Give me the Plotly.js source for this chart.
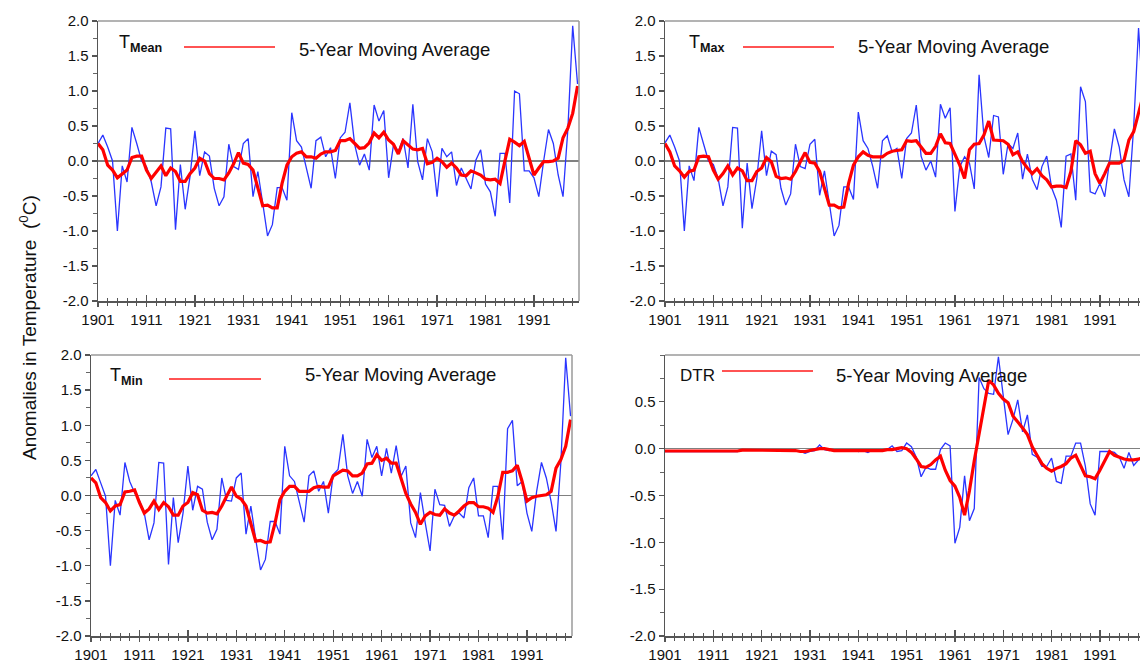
<!DOCTYPE html>
<html><head><meta charset="utf-8">
<script src="https://cdn.plot.ly/plotly-3.0.1.min.js"></script>
<style>html,body{margin:0;padding:0;background:#fff;}#chart{width:1140px;height:664px;}</style>
</head><body><div id="chart"></div>
<script>
const years = [1901,1902,1903,1904,1905,1906,1907,1908,1909,1910,1911,1912,1913,1914,1915,1916,1917,1918,1919,1920,
1921,1922,1923,1924,1925,1926,1927,1928,1929,1930,1931,1932,1933,1934,1935,1936,1937,1938,1939,1940,
1941,1942,1943,1944,1945,1946,1947,1948,1949,1950,1951,1952,1953,1954,1955,1956,1957,1958,1959,1960,
1961,1962,1963,1964,1965,1966,1967,1968,1969,1970,1971,1972,1973,1974,1975,1976,1977,1978,1979,1980,
1981,1982,1983,1984,1985,1986,1987,1988,1989,1990,1991,1992,1993,1994,1995,1996,1997,1998,1999,2000];

const tMeanAnnual = [0.25,0.37,0.2,0.0,-1.0,-0.07,-0.3,0.48,0.25,0.0,
-0.08,-0.3,-0.64,-0.37,0.47,0.46,-0.98,-0.05,-0.69,-0.22,
0.43,-0.21,0.13,0.07,-0.39,-0.64,-0.51,0.24,-0.08,-0.12,
0.25,0.32,-0.51,-0.15,-0.6,-1.07,-0.91,-0.38,-0.38,-0.56,
0.69,0.29,0.2,-0.08,-0.39,0.29,0.34,0.06,0.19,-0.25,
0.33,0.41,0.83,0.23,-0.06,0.1,-0.13,0.8,0.57,0.72,
-0.24,0.23,0.14,0.32,-0.1,0.81,-0.01,-0.27,0.32,0.13,
-0.51,0.18,0.06,0.13,-0.35,-0.1,-0.26,-0.4,0.01,0.16,
-0.33,-0.44,-0.79,0.11,0.11,-0.6,1.0,0.96,-0.14,-0.14,
-0.24,-0.51,0.0,0.45,0.25,-0.2,-0.51,0.45,1.93,1.1];
const tMeanMA = [0.25,0.16,-0.06,-0.13,-0.24,-0.18,-0.13,0.05,0.07,0.07,
-0.13,-0.25,-0.16,-0.07,-0.21,-0.1,-0.15,-0.29,-0.29,-0.18,
-0.1,0.04,0.0,-0.18,-0.25,-0.25,-0.27,-0.17,-0.04,0.12,
-0.03,-0.05,-0.13,-0.39,-0.64,-0.63,-0.67,-0.67,-0.32,-0.06,
0.06,0.11,0.13,0.06,0.06,0.04,0.1,0.13,0.13,0.15,
0.29,0.29,0.32,0.25,0.18,0.19,0.26,0.4,0.33,0.41,
0.3,0.24,0.1,0.29,0.23,0.17,0.16,0.18,-0.04,-0.02,
0.04,-0.01,-0.09,-0.03,-0.1,-0.2,-0.21,-0.14,-0.17,-0.2,
-0.26,-0.27,-0.26,-0.32,0.0,0.31,0.27,0.22,0.28,0.04,
-0.2,-0.1,-0.01,-0.01,0.0,0.04,0.33,0.47,0.68,1.07];

const tMaxAnnual = [0.26,0.37,0.2,0.0,-1.0,-0.07,-0.28,0.48,0.24,0.0,
-0.05,-0.25,-0.64,-0.37,0.48,0.47,-0.96,-0.03,-0.68,-0.25,
0.43,-0.21,0.14,0.09,-0.39,-0.63,-0.47,0.24,-0.08,-0.11,
0.24,0.31,-0.49,-0.14,-0.6,-1.07,-0.92,-0.37,-0.37,-0.55,
0.7,0.29,0.18,-0.08,-0.39,0.29,0.36,0.13,0.18,-0.25,
0.32,0.4,0.8,0.07,-0.13,0.0,-0.23,0.81,0.61,0.76,
-0.72,-0.08,0.06,-0.03,-0.4,1.23,0.35,0.05,0.65,0.63,
-0.19,0.25,0.18,0.4,-0.26,0.1,-0.26,-0.41,-0.08,0.07,
-0.38,-0.56,-0.95,0.07,0.1,-0.56,1.06,0.85,-0.44,-0.47,
-0.32,-0.51,0.0,0.46,0.2,-0.27,-0.51,0.5,1.9,0.8];
const tMaxMA = [0.25,0.13,-0.07,-0.14,-0.23,-0.15,-0.13,0.06,0.07,0.06,
-0.13,-0.26,-0.18,-0.07,-0.2,-0.1,-0.14,-0.28,-0.28,-0.15,
-0.1,0.05,-0.01,-0.22,-0.25,-0.24,-0.26,-0.15,-0.01,0.12,
-0.02,-0.03,-0.15,-0.39,-0.63,-0.63,-0.67,-0.66,-0.32,-0.06,
0.06,0.13,0.08,0.06,0.06,0.06,0.11,0.14,0.15,0.16,
0.29,0.28,0.29,0.2,0.11,0.11,0.21,0.39,0.26,0.25,
0.09,-0.06,-0.25,0.16,0.24,0.25,0.37,0.57,0.3,0.29,
0.29,0.24,0.09,0.13,-0.01,-0.1,-0.18,-0.11,-0.21,-0.27,
-0.37,-0.36,-0.36,-0.38,-0.15,0.29,0.23,0.11,0.14,-0.18,
-0.32,-0.18,-0.03,-0.03,-0.03,0.01,0.3,0.42,0.7,0.95];

const tMinAnnual = [0.28,0.37,0.18,-0.01,-1.0,-0.07,-0.28,0.47,0.2,0.04,
-0.07,-0.25,-0.63,-0.39,0.47,0.46,-0.98,-0.03,-0.67,-0.25,
0.42,-0.21,0.13,0.09,-0.38,-0.63,-0.48,0.25,-0.07,-0.08,
0.25,0.32,-0.55,-0.15,-0.62,-1.06,-0.91,-0.37,-0.37,-0.55,
0.7,0.28,0.2,-0.1,-0.38,0.28,0.35,0.06,0.2,-0.25,
0.3,0.37,0.87,0.28,0.03,0.2,-0.01,0.8,0.54,0.7,
0.28,0.67,0.32,0.71,0.27,0.42,-0.39,-0.6,0.04,-0.39,
-0.79,0.09,-0.13,-0.14,-0.44,-0.29,-0.25,-0.32,0.11,0.25,
-0.29,-0.29,-0.6,0.13,0.13,-0.63,0.95,1.07,0.14,0.2,
-0.25,-0.51,0.06,0.47,0.25,-0.09,-0.51,0.47,1.96,1.13];
const tMinMA = [0.25,0.18,-0.03,-0.1,-0.22,-0.15,-0.13,0.05,0.06,0.08,
-0.1,-0.25,-0.19,-0.08,-0.2,-0.1,-0.16,-0.28,-0.28,-0.15,
-0.1,0.04,0.01,-0.21,-0.25,-0.24,-0.26,-0.15,-0.01,0.12,
-0.01,-0.05,-0.15,-0.39,-0.65,-0.64,-0.67,-0.66,-0.39,-0.06,
0.06,0.13,0.13,0.06,0.06,0.06,0.11,0.13,0.12,0.12,
0.28,0.32,0.36,0.35,0.28,0.28,0.32,0.45,0.46,0.58,
0.5,0.53,0.46,0.46,0.26,0.03,-0.12,-0.24,-0.41,-0.29,
-0.24,-0.27,-0.28,-0.19,-0.25,-0.28,-0.22,-0.15,-0.1,-0.1,
-0.16,-0.16,-0.18,-0.24,-0.01,0.33,0.33,0.35,0.43,0.2,
-0.08,-0.03,-0.01,0.0,0.01,0.06,0.39,0.51,0.7,1.08];

const dtrAnnual = [-0.03,-0.03,-0.03,-0.03,-0.03,-0.03,-0.03,-0.03,-0.03,-0.03,
-0.03,-0.03,-0.03,-0.03,-0.03,-0.03,-0.01,-0.01,-0.01,-0.01,
-0.01,-0.01,-0.01,-0.01,-0.01,-0.01,-0.01,-0.02,-0.03,-0.05,
-0.03,-0.02,0.04,-0.01,-0.02,-0.01,-0.02,-0.02,-0.02,-0.01,
-0.03,-0.02,-0.04,-0.01,-0.02,-0.01,-0.01,0.03,-0.03,-0.02,
0.06,0.02,-0.09,-0.3,-0.2,-0.22,-0.22,-0.01,0.06,0.03,
-1.01,-0.84,-0.29,-0.77,-0.64,0.76,0.64,0.59,0.58,0.98,
0.59,0.15,0.31,0.52,0.18,0.36,-0.06,-0.09,-0.19,-0.19,
-0.1,-0.35,-0.37,-0.08,-0.08,0.06,0.06,-0.19,-0.59,-0.71,
-0.03,-0.03,-0.03,-0.04,-0.09,-0.21,-0.04,-0.18,-0.12,-0.1];
const dtrMA = [-0.025,-0.025,-0.025,-0.025,-0.025,-0.025,-0.025,-0.025,-0.025,-0.025,
-0.025,-0.025,-0.025,-0.025,-0.025,-0.025,-0.015,-0.015,-0.015,-0.015,
-0.015,-0.015,-0.015,-0.015,-0.015,-0.015,-0.015,-0.02,-0.03,-0.03,
-0.02,-0.01,0.0,0.0,-0.01,-0.02,-0.02,-0.02,-0.02,-0.02,
-0.02,-0.02,-0.02,-0.02,-0.02,-0.02,-0.01,-0.01,0.0,0.01,
0.0,-0.04,-0.11,-0.19,-0.2,-0.17,-0.12,-0.08,-0.23,-0.34,
-0.4,-0.52,-0.71,-0.45,-0.13,0.15,0.44,0.73,0.68,0.59,
0.53,0.49,0.35,0.29,0.22,0.15,0.02,-0.07,-0.16,-0.21,
-0.24,-0.21,-0.19,-0.16,-0.1,-0.07,-0.18,-0.29,-0.3,-0.32,
-0.23,-0.12,-0.03,-0.07,-0.09,-0.11,-0.12,-0.12,-0.11,-0.1];

const xTickVals = [1901,1911,1921,1931,1941,1951,1961,1971,1981,1991];
const xTickText = ['1901','1911','1921','1931','1941','1951','1961','1971','1981','1991'];
const yTickVals = [-2,-1.5,-1,-0.5,0,0.5,1,1.5,2];
const yTickText = ['-2.0','-1.5','-1.0','-0.5','0.0','0.5','1.0','1.5','2.0'];
const dtrTickVals = [-2,-1.5,-1,-0.5,0,0.5];
const dtrTickText = ['-2.0','-1.5','-1.0','-0.5','0.0','0.5'];

const panelNames = ['T<sub><b>Mean</b></sub>','T<sub><b>Max</b></sub>','T<sub><b>Min</b></sub>','DTR'];
const legendText = '5-Year Moving Average';
const yTitle = 'Anomalies in Temperature  (<sup>0</sup>C)';

const W = 1140, H = 664;
const px = x => x / W, py = y => 1 - y / H;
const FONT = 'Liberation Sans, Arial, sans-serif';

const panels = [
  {L:98, R:579, T:21, B:301, xr:[1901,2000.3], yr:[-2,2], tv:yTickVals, tt:yTickText, a:tMeanAnnual, m:tMeanMA,
   nameX:117, nameY:43, segX:[184,275], segY:47, txtX:297, txtY:49, nameSize:18},
  {L:665, R:1140, T:21, B:301, xr:[1901,1999.3], yr:[-2,2], tv:yTickVals, tt:yTickText, a:tMaxAnnual, m:tMaxMA,
   nameX:687, nameY:43, segX:[743,834], segY:47, txtX:856, txtY:47, nameSize:18},
  {L:91, R:572, T:355, B:636, xr:[1901,2000.3], yr:[-2,2], tv:yTickVals, tt:yTickText, a:tMinAnnual, m:tMinMA,
   nameX:108, nameY:377, segX:[169,261], segY:379, txtX:303, txtY:374, nameSize:18},
  {L:665, R:1140, T:355, B:636, xr:[1901,1999.3], yr:[-2,1], tv:dtrTickVals, tt:dtrTickText, a:dtrAnnual, m:dtrMA,
   nameX:678, nameY:375, segX:[722,813], segY:371, txtX:834, txtY:375, nameSize:17}
];

const data = [], layout = {
  width: W, height: H, margin:{l:0,r:0,t:0,b:0}, paper_bgcolor:'#fff', plot_bgcolor:'#fff',
  showlegend:false, shapes:[], annotations:[], font:{family:FONT, color:'#111'}
};

panels.forEach((p, i) => {
  const n = i + 1, xa = 'x' + (n === 1 ? '' : n), ya = 'y' + (n === 1 ? '' : n);
  const xo = 'x' + (n + 4), yo = 'y' + (n + 4);
  const xd = [px(p.L), Math.min(1, px(p.R))], yd = [py(p.B), py(p.T)];
  layout['xaxis' + (n === 1 ? '' : n)] = {
    domain: xd, range: p.xr, anchor: ya, showline:true, linecolor:'#555', linewidth:1.5,
    tickmode:'array', tickvals:xTickVals, ticktext:xTickText, ticks:'outside', ticklen:4, tickwidth:1.3, tickcolor:'#555',
    minor:{tickmode:'linear', tick0:1901, dtick:2, ticks:'outside', ticklen:3, tickwidth:1, tickcolor:'#555'},
    showgrid:false, zeroline:false, fixedrange:true,
    tickfont:{family:FONT, size:15, color:'#111'}
  };
  layout['yaxis' + (n === 1 ? '' : n)] = {
    domain: yd, range: p.yr, anchor: xa, showline:true, linecolor:'#555', linewidth:1.5,
    tickmode:'array', tickvals:p.tv, ticktext:p.tt, ticks:'outside', ticklen:5, tickwidth:1.3, tickcolor:'#555',
    minor:{tickmode:'linear', tick0:0, dtick:0.25, ticks:'outside', ticklen:4, tickwidth:1, tickcolor:'#666'},
    showgrid:false, zeroline:true, zerolinecolor:'#808080', zerolinewidth:1.5, fixedrange:true,
    tickfont:{family:FONT, size:15, color:'#111'}
  };
  layout['xaxis' + (n + 4)] = {
    domain: xd, range: p.xr, anchor: yo, overlaying: xa, showline:false, showticklabels:false,
    tickmode:'array', tickvals:xTickVals, ticks:'inside', ticklen:6, tickwidth:1.3, tickcolor:'#555',
    minor:{tickmode:'linear', tick0:1901, dtick:2, ticks:'inside', ticklen:3, tickwidth:1, tickcolor:'#555'},
    showgrid:false, zeroline:false, fixedrange:true
  };
  layout['yaxis' + (n + 4)] = {
    domain: yd, range: p.yr, anchor: xo, overlaying: ya, visible:false, fixedrange:true
  };
  data.push({x:[], y:[], xaxis:xo, yaxis:yo, type:'scatter', mode:'lines', hoverinfo:'skip'});
  data.push({x:years, y:p.a, xaxis:xa, yaxis:ya, type:'scatter', mode:'lines',
             line:{color:'#2a35ff', width:1.3}, hoverinfo:'skip'});
  data.push({x:years, y:p.m, xaxis:xa, yaxis:ya, type:'scatter', mode:'lines',
             line:{color:'#ff0000', width:3.2}, hoverinfo:'skip'});
  layout.shapes.push({type:'line', xref:'paper', yref:'paper', x0:px(p.L), x1:Math.min(1,px(p.R)), y0:py(p.T), y1:py(p.T),
    line:{color:'#9a9a9a', width:1.5}});
  if (p.R < W) layout.shapes.push({type:'line', xref:'paper', yref:'paper', x0:px(p.R), x1:px(p.R), y0:py(p.B), y1:py(p.T),
    line:{color:'#9a9a9a', width:1.5}});
  layout.shapes.push({type:'line', xref:'paper', yref:'paper', x0:px(p.segX[0]), x1:px(p.segX[1]), y0:py(p.segY), y1:py(p.segY),
    line:{color:'#ff1a1a', width:1.6}});
  layout.annotations.push({xref:'paper', yref:'paper', x:px(p.nameX), y:py(p.nameY), xanchor:'left', yanchor:'middle',
    text:panelNames[i], showarrow:false, font:{family:FONT, size:p.nameSize, color:'#111'}});
  layout.annotations.push({xref:'paper', yref:'paper', x:px(p.txtX), y:py(p.txtY), xanchor:'left', yanchor:'middle',
    text:legendText, showarrow:false, font:{family:FONT, size:18.5, color:'#111'}});
});

layout.annotations.push({xref:'paper', yref:'paper', x:px(28), y:py(328), xanchor:'center', yanchor:'middle',
  text:yTitle, textangle:-90, showarrow:false, font:{family:FONT, size:19, color:'#111'}});

Plotly.newPlot('chart', data, layout, {displayModeBar:false, staticPlot:true});
</script></body></html>
